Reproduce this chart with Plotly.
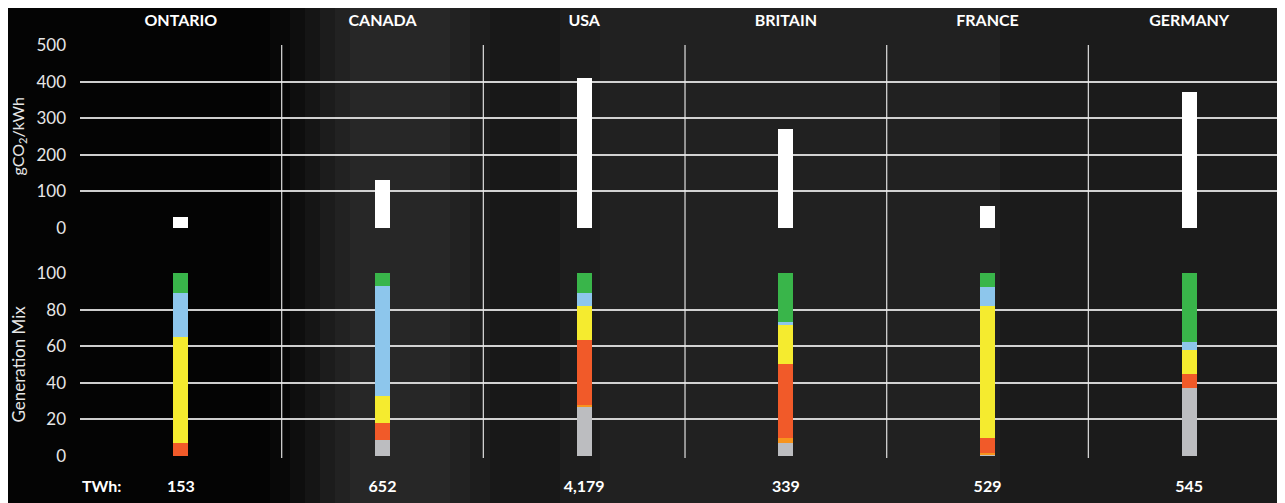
import plotly.graph_objects as go
from plotly.subplots import make_subplots

countries = ["ONTARIO", "CANADA", "USA", "BRITAIN", "FRANCE", "GERMANY"]
twh_labels = ["153", "652", "4,179", "339", "529", "545"]
intensity = [30, 131, 410, 270, 60, 372]  # gCO2/kWh

# Generation mix (%), stacked bottom to top
mix_gray = [0, 9, 27, 7, 0.7, 37]
mix_orange = [0, 0, 1, 3, 0.9, 0]
mix_red = [7, 9, 35.5, 40.5, 8.3, 8]
mix_yellow = [58, 15, 18.5, 21, 72, 13]
mix_blue = [24, 60, 7, 2, 10.5, 4.5]
mix_green = [11, 7, 11, 28, 7.5, 37.5]

series = [
    ("gray", mix_gray, "#BCBDC0"),
    ("orange", mix_orange, "#F7941D"),
    ("red", mix_red, "#F15A29"),
    ("yellow", mix_yellow, "#F5EB2F"),
    ("blue", mix_blue, "#8DC6EC"),
    ("green", mix_green, "#39B54A"),
]

fig = make_subplots(rows=2, cols=1, shared_xaxes=False, vertical_spacing=0.0)

BAR_W = 0.075
fig.add_trace(go.Bar(x=countries, y=intensity, width=BAR_W, marker=dict(color="#FFFFFF", line=dict(width=0)),
                     showlegend=False, hoverinfo="x+y"), row=1, col=1)
for name, vals, col in series:
    fig.add_trace(go.Bar(x=countries, y=vals, width=BAR_W, name=name,
                         marker=dict(color=col, line=dict(width=0)), showlegend=False), row=2, col=1)

# page body has an 8px margin: figure sits at (8, 8) inside the 1285x503 window
OFF = 8
WIN_W, WIN_H = 1285, 503
W, H = WIN_W - OFF, WIN_H - OFF
PL, PT, PB = 80, 45, 456          # plot area in window pixels
L, T, R = PL - OFF, PT - OFF, 0
B = H - (PB - OFF)
ph = PB - PT
pw = W - L - R


def dom(y0, y1):
    return [1 - (y1 - PT) / ph, 1 - (y0 - PT) / ph]


def px2x(px):
    return (px - PL) / pw


def py2y(py):
    return 1 - (py - PT) / ph


grid_col = "rgba(235,235,235,0.88)"
font_fam = "Lato, 'Open Sans', sans-serif"
lab_font = dict(size=16, color="#ffffff", family=font_fam, weight="bold")

fig.update_layout(
    width=W, height=H, barmode="stack", bargap=0,
    margin=dict(l=L, r=R, t=T, b=B, autoexpand=False),
    paper_bgcolor="#1d1d1d", plot_bgcolor="rgba(0,0,0,0)",
    font=dict(family=font_fam, color="#e6e6e6", size=17),
    xaxis=dict(domain=[0, 1], range=[-0.5, 5.475], side="top", showgrid=False, zeroline=False,
               tickfont=lab_font, ticks="", ticklabelstandoff=15, anchor="y", automargin=False),
    yaxis=dict(domain=dom(45, 228), range=[0, 500], tickvals=[0, 100, 200, 300, 400, 500],
               showgrid=True, gridcolor=grid_col, gridwidth=1.7, zeroline=False, automargin=False,
               ticklabelstandoff=13, tickfont=dict(size=17, color="#e6e6e6")),
    xaxis2=dict(domain=[0, 1], range=[-0.5, 5.475], showgrid=False, zeroline=False, automargin=False,
                tickvals=countries, ticktext=twh_labels, ticks="", ticklabelstandoff=19,
                tickfont=lab_font, anchor="y2"),
    yaxis2=dict(domain=dom(273, 456), range=[0, 100], tickvals=[0, 20, 40, 60, 80, 100],
                showgrid=True, gridcolor=grid_col, gridwidth=1.7, zeroline=False, automargin=False,
                ticklabelstandoff=13, tickfont=dict(size=17, color="#e6e6e6")),
)

# decorative background shading (smoky texture approximation)
bands = [(0, 270, "#040404"), (270, 290, "#080808"), (290, 305, "#0e0e0e"), (305, 320, "#151515"),
         (320, 335, "#1c1c1c"), (335, 350, "#222222"), (350, 450, "#272727"), (450, 470, "#222222"),
         (470, 490, "#1d1d1d"), (490, 560, "#181818"), (560, 600, "#1d1d1d"), (600, 1000, "#212121"),
         (1000, 1290, "#1b1b1b")]
for a, b, c in bands:
    fig.add_shape(type="rect", xref="paper", yref="paper", x0=px2x(a), x1=px2x(b),
                  y0=py2y(WIN_H), y1=py2y(0), line=dict(width=0), fillcolor=c, layer="below")

# vertical separators between countries spanning both panels
for i in range(1, 6):
    fig.add_shape(type="line", xref="x", yref="paper", x0=i - 0.5, x1=i - 0.5,
                  y0=py2y(458), y1=py2y(45), line=dict(color=grid_col, width=1.3), layer="below")

# axis titles and TWh label
fig.add_annotation(xref="paper", yref="paper", x=px2x(18), xanchor="center", yanchor="middle",
                   y=sum(dom(45, 228)) / 2,
                   text="gCO<sub>2</sub>/kWh", textangle=-90, showarrow=False,
                   font=dict(size=16, color="#e6e6e6"))
fig.add_annotation(xref="paper", yref="paper", x=px2x(18), xanchor="center", yanchor="middle",
                   y=sum(dom(273, 456)) / 2,
                   text="Generation Mix", textangle=-90, showarrow=False,
                   font=dict(size=17, color="#e6e6e6"))
fig.add_annotation(xref="paper", yref="paper", x=px2x(80), xanchor="left", yanchor="middle",
                   y=py2y(486), text="TWh:", showarrow=False, font=lab_font)

fig.write_html("out.html")
